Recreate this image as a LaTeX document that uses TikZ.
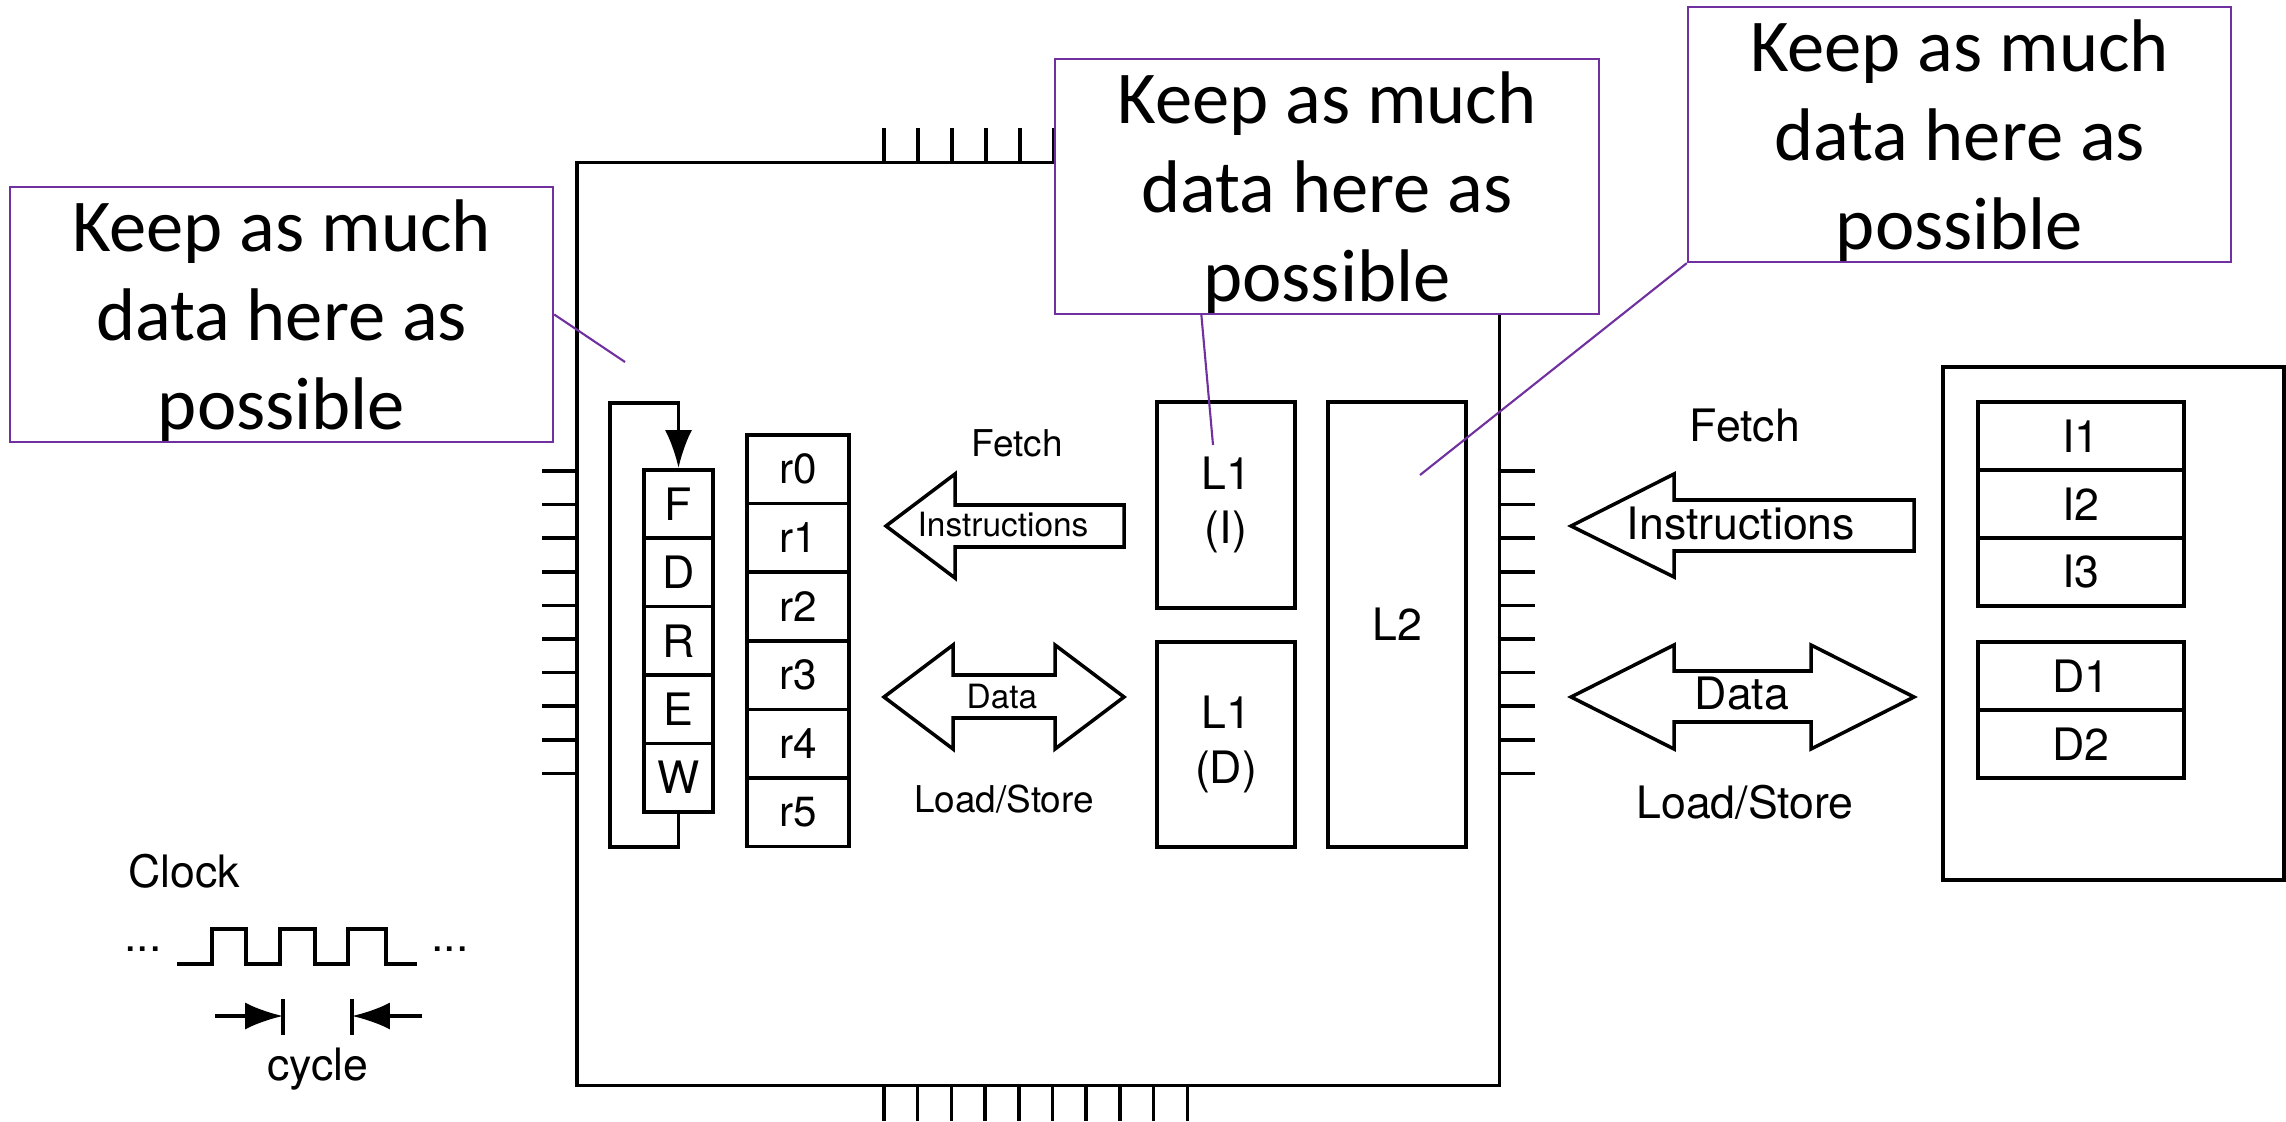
\documentclass[tikz,border=0pt]{standalone}
\usepackage{fontspec}
\setmainfont{TeX Gyre Heros}
\newfontfamily\calibrifont{Carlito}
\usetikzlibrary{calc,shapes,arrows.meta}
\definecolor{notepurple}{HTML}{7030A0}
\tikzstyle{every picture}=[>={Latex[length=10.8pt,width=7.7pt]}]
\tikzstyle{block}=[draw,rectangle,line width=1pt,inner sep=0pt,align=center,font=\fontsize{12.7}{15.6}\selectfont]
\tikzstyle{stage}=[block,minimum width=0.69cm,minimum height=0.684cm]
\tikzstyle{reg}=[block,minimum width=1.02cm,minimum height=0.686cm,font=\fontsize{12}{14}\selectfont]
\tikzstyle{cache}=[block,minimum width=1.38cm]
\tikzstyle{memslot}=[block,minimum width=2.06cm,minimum height=0.68cm]
\tikzstyle{note}=[draw=notepurple,line width=0.6pt,fill=white,rectangle,minimum width=5.43cm,minimum height=2.55cm,inner sep=0pt]
\tikzstyle{notetext}=[inner sep=0pt,align=center,font=\calibrifont\fontsize{21.2}{25.3}\selectfont]
\tikzstyle{pointer}=[draw=notepurple,line width=0.6pt]
\tikzstyle{wire}=[line width=1pt]
\tikzstyle{biglabel}=[anchor=base,font=\fontsize{12.7}{15}\selectfont]
\tikzstyle{midlabel}=[anchor=base,font=\fontsize{10.5}{12.5}\selectfont]
\tikzstyle{smalllabel}=[anchor=base,font=\fontsize{9.5}{11}\selectfont]

\begin{document}
\begin{tikzpicture}[x=0.01cm,y=-0.01cm]
    \useasboundingbox (0,0) rectangle (2286,1122);

    % Pins round the chip
    \foreach \i in {0,...,5}
        \draw[wire] ({884+34*\i},128) -- ({884+34*\i},163);
    \foreach \i in {0,...,9} {
        \draw[wire] ({884+33.7*\i},1085) -- ({884+33.7*\i},1121);
        \draw[wire] (542,{471+33.6*\i}) -- (577,{471+33.6*\i});
        \draw[wire] (1499,{471+33.6*\i}) -- (1535,{471+33.6*\i});
    }

    % Chip
    \node[block,minimum width=9.22cm,minimum height=9.22cm] (chip) at (1038,624) {};

    % Pipeline stages
    \node[stage] (F) at (678.5,504) {F};
    \node[stage] (D) at (678.5,572.4) {D};
    \node[stage] (R) at (678.5,640.8) {R};
    \node[stage] (E) at (678.5,709.2) {E};
    \node[stage] (W) at (678.5,777.6) {W};
    \coordinate (loopbot) at (610,847);
    \coordinate (looptop) at (610,403);
    \draw[wire,->] (W.south) |- (loopbot) -- (looptop) -| (F.north);

    % Registers
    \node[reg] (r0) at (798,469.3) {r0};
    \node[reg] (r1) at (798,537.9) {r1};
    \node[reg] (r2) at (798,606.5) {r2};
    \node[reg] (r3) at (798,675.1) {r3};
    \node[reg] (r4) at (798,743.7) {r4};
    \node[reg] (r5) at (798,812.3) {r5};

    % Caches
    \node[cache,minimum height=2.06cm] (l1i) at (1226,505) {L1\\(I)};
    \node[cache,minimum height=2.05cm] (l1d) at (1226,744.5) {L1\\(D)};
    \node[cache,minimum height=4.45cm] (l2) at (1397,624.5) {L2};

    % Arrows inside the chip
    \draw[wire] (886,526) -- (955,474) -- (955,505) -- (1124,505) -- (1124,547)
        -- (955,547) -- (955,578) -- cycle;
    \draw[wire] (884,697) -- (953,645) -- (953,675) -- (1055,675) -- (1055,645)
        -- (1124,697) -- (1055,749) -- (1055,718) -- (953,718) -- (953,749) -- cycle;
    \node[midlabel] (fetchin) at (1017,457) {Fetch};
    \node[smalllabel] (instrin) at (1003,537) {Instructions};
    \node[smalllabel] (datain) at (1002,708) {Data};
    \node[midlabel] (lsin) at (1004,812) {Load/Store};

    % Arrows to memory
    \draw[wire] (1571,526) -- (1674,474) -- (1674,500) -- (1914,500) -- (1914,551)
        -- (1674,551) -- (1674,577) -- cycle;
    \draw[wire] (1571,697) -- (1674,645) -- (1674,671) -- (1811,671) -- (1811,645)
        -- (1914,697) -- (1811,749) -- (1811,722) -- (1674,722) -- (1674,749) -- cycle;
    \node[biglabel] (fetchout) at (1745,442) {Fetch};
    \node[biglabel] (instrout) at (1741,540) {Instructions};
    \node[biglabel] (dataout) at (1742,709) {Data};
    \node[biglabel] (lsout) at (1745,818) {Load/Store};

    % Memory
    \node[block,minimum width=3.41cm,minimum height=5.13cm] (mem) at (2113.5,623.5) {};
    \node[memslot] (i1) at (2081,436) {I1};
    \node[memslot] (i2) at (2081,504) {I2};
    \node[memslot] (i3) at (2081,572) {I3};
    \node[memslot] (d1) at (2081,676) {D1};
    \node[memslot] (d2) at (2081,744) {D2};

    % Clock
    \node[biglabel] (clock) at (184,887) {Clock};
    \node[biglabel] (dotsl) at (143,951) {...};
    \node[biglabel] (dotsr) at (450,951) {...};
    \draw[wire] (177,964) -- (212,964) -- (212,929) -- (246,929) -- (246,964)
        -- (280,964) -- (280,929) -- (315,929) -- (315,964) -- (348,964)
        -- (348,929) -- (386,929) -- (386,964) -- (417,964);
    \coordinate (cycl) at (283,1016);
    \coordinate (cycr) at (352,1016);
    \draw[wire] (283,999) -- (283,1035);
    \draw[wire] (352,999) -- (352,1035);
    \draw[wire,->] (215,1016) -- (cycl);
    \draw[wire,->] (422,1016) -- (cycr);
    \node[biglabel] (cycle) at (318,1080) {cycle};

    % Callouts
    \coordinate (pa) at (625,362);
    \coordinate (pb) at (1213,445);
    \coordinate (pc) at (1420,475);
    \node[note] (notea) at (281.5,314.5) {};
    \node[notetext] (noteatext) at (281.5,321) {Keep as much\\data here as\\possible};
    \node[note] (noteb) at (1327,186.5) {};
    \node[notetext] (notebtext) at (1327,193) {Keep as much\\data here as\\possible};
    \node[note] (notec) at (1959.5,134.5) {};
    \node[notetext] (notectext) at (1959.5,141) {Keep as much\\data here as\\possible};
    \draw[pointer] (notea.east) -- (pa);
    \draw[pointer] ([xshift=1.47cm]noteb.south west) -- (pb);
    \draw[pointer] (notec.south west) -- (pc);
\end{tikzpicture}
\end{document}
